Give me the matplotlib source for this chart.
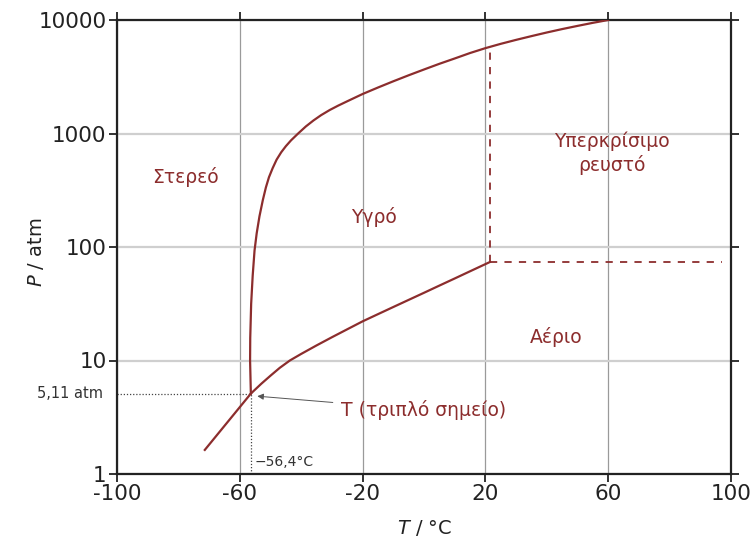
import matplotlib
matplotlib.use("Agg")
import matplotlib.pyplot as plt
from matplotlib.transforms import blended_transform_factory

# ---- data ----
melt_T = [-56.4, -56.65, -56.6, -56.3, -55.8, -55.2, -54.5, -53.6, -52.5, -51.5, -50.5,
          -49.3, -48.0, -46.5, -45.0, -43.3, -41.0, -38.5, -36.0, -33.5, -30.7, -28.0, -25.0,
          -22.5, -20.0, -15.0, -10.0, -5.0, 0.0, 5.0, 10.0, 15.0, 20.0, 25.0, 30.0,
          35.0, 40.0, 45.0, 50.0, 55.0, 60.0]
melt_P = [5.11, 10, 15.8, 31.6, 56, 93, 132, 186, 259, 335, 412,
          495, 589, 684, 773, 871, 1000, 1153, 1303, 1452, 1611, 1758, 1923,
          2070, 2228, 2541, 2884, 3258, 3664, 4111, 4581, 5117, 5649, 6166, 6683,
          7211, 7762, 8318, 8872, 9441, 10000]

vap_T = [-56.4, -53.0, -50.0, -47.0, -43.7, -40.0, -35.0, -30.0, -25.0, -20.0,
         -15.0, -10.0, -5.0, 0.0, 5.0, 10.0, 15.0, 21.5]
vap_P = [5.11, 6.24, 7.35, 8.61, 10.0, 11.43, 13.58, 16.03, 18.84, 22.13,
         25.6, 29.6, 34.2, 39.5, 45.7, 52.8, 61.1, 73.8]

sub_T = [-71.4, -56.4]
sub_P = [1.63, 5.11]

triple_T, triple_P = -56.4, 5.11
crit_T, crit_P = 21.5, 73.8
crit_top_P = 5800
dash_end_T = 97

xticks = [-100, -60, -20, 20, 60, 100]
yticks = [1, 10, 100, 1000, 10000]
ytick_labels = ["1", "10", "100", "1000", "10000"]

regions = [("Στερεό", -77.6, 414), ("Υγρό", -16.4, 184),
           ("Υπερκρίσιμο\nρευστό", 61.3, 673), ("Αέριο", 43.1, 16.1)]

red = "#8c2d2d"
dark = "#222222"

fig = plt.figure(figsize=(7.54, 5.46), dpi=100)
ax = fig.add_axes([117/754, 1-474/546, (731-117)/754, (474-20)/546])
ax.set_yscale("log")
ax.set_xlim(-100, 100)
ax.set_ylim(1, 10000)

ax.set_xticks(xticks)
ax.set_xticklabels([str(t) for t in xticks])
ax.set_yticks(yticks)
ax.set_yticklabels(ytick_labels)
ax.minorticks_off()
ax.tick_params(axis="both", which="major", direction="out", length=6, width=1.3,
               color=dark, labelsize=15.5, labelcolor=dark, pad=1.5,
               top=True, right=True, labeltop=False, labelright=False)

for t in xticks:
    ax.axvline(t, color="#9a9a9a", lw=0.9, zorder=0)
for p in yticks:
    ax.axhline(p, color="#cfcfcf", lw=1.6, zorder=0)

for s in ax.spines.values():
    s.set_color(dark)
    s.set_linewidth(1.6)

# phase boundaries
ax.plot(melt_T, melt_P, color=red, lw=1.6, zorder=3, solid_joinstyle="round")
ax.plot(vap_T, vap_P, color=red, lw=1.6, zorder=3, solid_joinstyle="round")
ax.plot(sub_T, sub_P, color=red, lw=1.6, zorder=3)

# critical dashed lines
ax.plot([crit_T, crit_T], [crit_P, crit_top_P], color=red, lw=1.3, ls=(0, (4, 4)), zorder=2)
ax.plot([crit_T, dash_end_T], [crit_P, crit_P], color=red, lw=1.3, ls=(0, (4, 4)), zorder=2)

# triple point dotted guides
ax.plot([-100, triple_T], [triple_P, triple_P], color="#444444", lw=0.9, ls=(0, (1, 1.5)), zorder=2)
ax.plot([triple_T, triple_T], [1, triple_P], color="#444444", lw=0.9, ls=(0, (1, 1.5)), zorder=2)

trans = blended_transform_factory(ax.transAxes, ax.transData)
ax.text(-0.022, triple_P, "5,11 atm", transform=trans, ha="right", va="center",
        fontsize=10.5, color="#333333", clip_on=False)
ax.text(-55.2, 1.27, "−56,4°C", ha="left", va="center", fontsize=10, color="#333333")

for label, tx, py in regions:
    ax.text(tx, py, label, ha="center", va="center", fontsize=13.5, color=red,
            linespacing=1.25)

ax.annotate("T (τριπλό σημείο)", xy=(-54.3, 4.85), xytext=(-27.0, 3.66),
            ha="left", va="center", fontsize=13.5, color=red,
            arrowprops=dict(arrowstyle="-|>", color="#555555", lw=0.7,
                            mutation_scale=9, shrinkA=4, shrinkB=0))

ax.set_xlabel("$T$ / °C", fontsize=14, color=dark)
ax.set_ylabel("$P$ / atm", fontsize=14, color=dark)
ax.xaxis.set_label_coords((425-117)/614, (474-518)/454)
ax.yaxis.set_label_coords((46-117)/614, (474-252)/454)

fig.savefig("out.png", dpi=100)
